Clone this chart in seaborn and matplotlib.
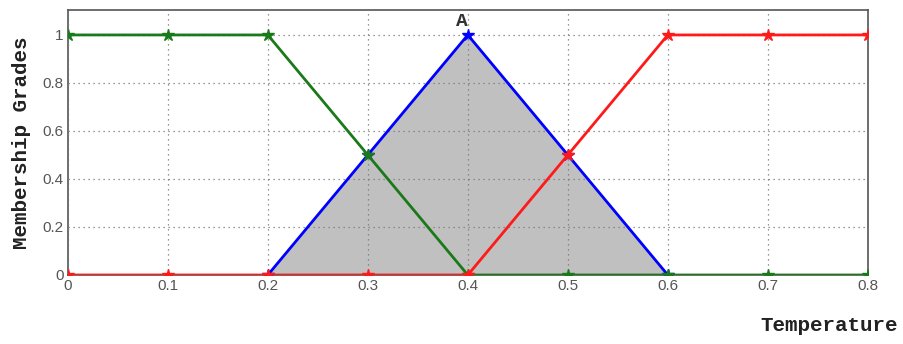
import matplotlib
matplotlib.use("Agg")
import matplotlib.pyplot as plt
import seaborn as sns
import pandas as pd

# Membership functions sampled at 0.1 steps of temperature
temperature = [0.0, 0.1, 0.2, 0.3, 0.4, 0.5, 0.6, 0.7, 0.8]
low = [1.0, 1.0, 1.0, 0.5, 0.0, 0.0, 0.0, 0.0, 0.0]
medium_x = [0.2, 0.3, 0.4, 0.5, 0.6]
medium = [0.0, 0.5, 1.0, 0.5, 0.0]
high = [0.0, 0.0, 0.0, 0.0, 0.0, 0.5, 1.0, 1.0, 1.0]

x_ticks = [0, 0.1, 0.2, 0.3, 0.4, 0.5, 0.6, 0.7, 0.8]
x_tick_labels = ["0", "0.1", "0.2", "0.3", "0.4", "0.5", "0.6", "0.7", "0.8"]
y_ticks = [0, 0.2, 0.4, 0.6, 0.8, 1.0]
y_tick_labels = ["0", "0.2", "0.4", "0.6", "0.8", "1"]

sns.set_style("white")

fig = plt.figure(figsize=(9.04, 3.44), dpi=100)
ax = fig.add_axes([0.075, 0.2006, 0.885, 0.7704])

df_low = pd.DataFrame({"t": temperature, "mu": low})
df_med = pd.DataFrame({"t": medium_x, "mu": medium})
df_high = pd.DataFrame({"t": temperature, "mu": high})

# shaded area under the medium triangle
ax.fill_between(df_med["t"], df_med["mu"], 0, color="#c0c0c0", zorder=1, linewidth=0)

ax.grid(True, linestyle=(0, (1, 3)), color="#777777", linewidth=0.9, zorder=2)
ax.set_axisbelow(False)

line_kw = dict(linewidth=2, marker="*", markersize=9, markeredgewidth=1.0, zorder=3)
for df, col in [(df_med, "#0000ff"), (df_low, "#1a7a1a"), (df_high, "#ff1a1a")]:
    sns.lineplot(data=df, x="t", y="mu", ax=ax, color=col,
                 markeredgecolor=col, markerfacecolor=col, **line_kw)

ax.set_xlim(0, 0.8)
ax.set_ylim(0, 1.104)
ax.set_xticks(x_ticks)
ax.set_xticklabels(x_tick_labels)
ax.set_yticks(y_ticks)
ax.set_yticklabels(y_tick_labels)
ax.tick_params(axis="both", direction="in", length=4, color="#555555",
               labelsize=10.5, labelcolor="#555555", pad=3)
for lbl in ax.get_xticklabels() + ax.get_yticklabels():
    lbl.set_family("Liberation Sans")
    lbl.set_fontsize(11)
for sp in ax.spines.values():
    sp.set_color("#555555")
    sp.set_linewidth(1.2)

ax.set_xlabel("")
ax.set_ylabel("Membership Grades", fontsize=15, fontweight="bold",
              family="Liberation Mono", color="#222222", labelpad=8)

ax.text(0.394, 1.055, "A", fontsize=14, fontweight="bold", color="#333333",
        family="Liberation Mono", ha="center", va="center", zorder=4)

fig.text(0.993, 0.055, "Temperature", fontsize=15, fontweight="bold",
         family="Liberation Mono", color="#222222", ha="right", va="center")

fig.savefig("out.png", dpi=100)
